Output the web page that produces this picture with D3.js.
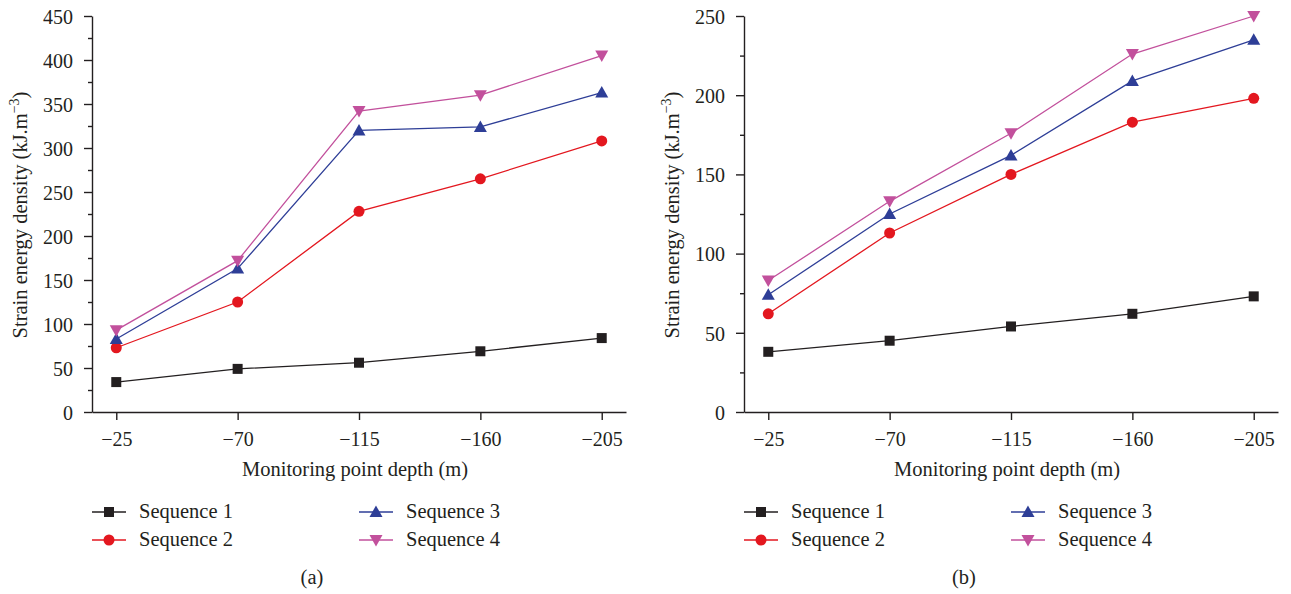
<!DOCTYPE html>
<meta charset="utf-8">
<style>
  body { margin: 0; background: #fff; }
  svg { font-family: 'Liberation Serif', 'Times New Roman', serif; }
  .axis path, .axis line { stroke: #231f20; stroke-width: 1.4; }
  .axis text { fill: #231f20; font-size: 20px; font-family: 'Liberation Serif', serif; }
  .lbl { fill: #231f20; font-size: 20.5px; }
</style>
<script src="https://d3js.org/d3.v7.min.js"></script>
<div id="chart"></div>
<script>
// depth categories (x axis)
var depths = ["\u221225", "\u221270", "\u2212115", "\u2212160", "\u2212205"];
var seqNames = ["Sequence 1", "Sequence 2", "Sequence 3", "Sequence 4"];
var seqColors = ["#231f20", "#e3171f", "#2e3e97", "#c2509c"];
var seqSymbols = ["square", "circle", "up", "down"];

// panel (a)
var aSeq1 = [34, 49, 56, 69, 84];
var aSeq2 = [73, 125, 228, 265, 308];
var aSeq3 = [83, 163, 320, 324, 363];
var aSeq4 = [93, 172, 342, 360, 405];
var aTicks = [0, 50, 100, 150, 200, 250, 300, 350, 400, 450];

// panel (b)
var bSeq1 = [38, 45, 54, 62, 73];
var bSeq2 = [62, 113, 150, 183, 198];
var bSeq3 = [74, 125, 162, 209, 235];
var bSeq4 = [83, 133, 176, 226, 250];
var bTicks = [0, 50, 100, 150, 200, 250];

var W = 1291, H = 594;
var svg = d3.select("#chart").append("svg")
  .attr("width", W).attr("height", H);

function marker(g, type, x, y, color) {
  if (type == "square") {
    g.append("rect").attr("x", x - 5).attr("y", y - 5).attr("width", 10).attr("height", 10).attr("fill", color);
  } else if (type == "circle") {
    g.append("circle").attr("cx", x).attr("cy", y).attr("r", 5.5).attr("fill", color);
  } else if (type == "up") {
    g.append("path").attr("d", "M" + x + "," + (y - 6.5) + "L" + (x + 6.5) + "," + (y + 5) + "L" + (x - 6.5) + "," + (y + 5) + "Z").attr("fill", color);
  } else {
    g.append("path").attr("d", "M" + x + "," + (y + 6.5) + "L" + (x + 6.5) + "," + (y - 5) + "L" + (x - 6.5) + "," + (y - 5) + "Z").attr("fill", color);
  }
}

function drawPanel(left, series, ticks, tag) {
  var top = 16, width = 534, height = 396;
  var g = svg.append("g").attr("transform", "translate(" + left + "," + top + ")");

  var x = d3.scalePoint().domain(depths).range([0, width]).padding(0.2);
  var ymax = ticks[ticks.length - 1];
  var y = d3.scaleLinear().domain([0, ymax]).range([height, 0]);

  // minor ticks every 25
  var minor = d3.range(25, ymax, 50);
  g.append("g").attr("class", "axis")
    .call(d3.axisLeft(y).tickValues(minor).tickSize(4).tickFormat(""))
    .select(".domain").remove();

  g.append("g").attr("class", "axis")
    .call(d3.axisLeft(y).tickValues(ticks).tickSize(8).tickSizeOuter(0).tickPadding(11))
    .selectAll("text").attr("dy", "0.36em");

  g.append("g").attr("class", "axis")
    .attr("transform", "translate(0," + height + ")")
    .call(d3.axisBottom(x).tickSize(8).tickSizeOuter(0).tickPadding(12));

  var line = d3.line()
    .x(function(d, i) { return x(depths[i]); })
    .y(function(d) { return y(d); });

  series.forEach(function(s, k) {
    g.append("path")
      .datum(s)
      .attr("d", line)
      .attr("fill", "none")
      .attr("stroke", seqColors[k])
      .attr("stroke-width", 1.3);
    s.forEach(function(v, i) {
      marker(g, seqSymbols[k], x(depths[i]), y(v), seqColors[k]);
    });
  });

  // axis titles
  g.append("text").attr("class", "lbl")
    .attr("x", width / 2 - 4).attr("y", height + 64)
    .attr("text-anchor", "middle")
    .attr("font-size", 21.5)
    .text("Monitoring point depth (m)");

  var yl = g.append("text").attr("class", "lbl")
    .attr("font-size", 21.5)
    .attr("transform", "translate(" + (-65) + "," + (height / 2 + 1) + ") rotate(-90)")
    .attr("text-anchor", "middle");
  yl.append("tspan").text("Strain energy density (kJ.m");
  yl.append("tspan").attr("dy", -8).attr("font-size", 14).text("\u22123");
  yl.append("tspan").attr("dy", 8).text(")");

  // legend
  var lg = svg.append("g").attr("transform", "translate(" + left + ",0)");
  var cols = [0, 267], rows = [512, 540];
  seqNames.forEach(function(name, k) {
    var lx = cols[Math.floor(k / 2)], ly = rows[k % 2];
    lg.append("line").attr("x1", lx).attr("x2", lx + 34).attr("y1", ly).attr("y2", ly)
      .attr("stroke", seqColors[k]).attr("stroke-width", 1.3);
    marker(lg, seqSymbols[k], lx + 17, ly, seqColors[k]);
    lg.append("text").attr("class", "lbl")
      .attr("x", lx + 47).attr("y", ly + 6)
      .text(name);
  });

  lg.append("text").attr("class", "lbl")
    .attr("x", 220).attr("y", 584)
    .attr("text-anchor", "middle")
    .attr("font-size", 20)
    .text(tag);
}

drawPanel(92, [aSeq1, aSeq2, aSeq3, aSeq4], aTicks, "(a)");
drawPanel(744, [bSeq1, bSeq2, bSeq3, bSeq4], bTicks, "(b)");
</script>
